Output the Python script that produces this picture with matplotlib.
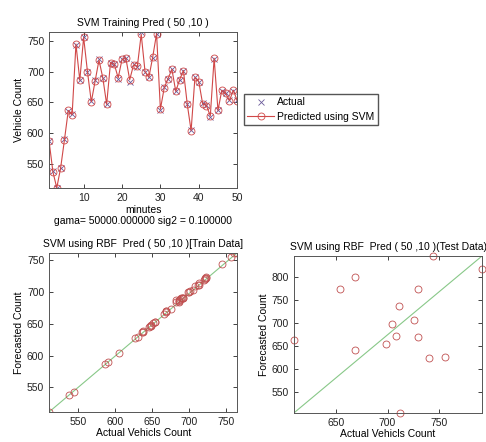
import matplotlib
matplotlib.use("Agg")
import matplotlib.pyplot as plt

plt.rcParams['font.family'] = ['Liberation Sans', 'DejaVu Sans']
plt.rcParams['font.size'] = 7

# minutes 1..50
minutes = list(range(1, 51))

# training set: predicted (red circles) and actual (x)
pred = [587, 537, 511, 543, 589, 637, 630, 745, 686, 756,
        700, 651, 685, 719, 690, 647, 715, 712, 690, 720,
        722, 687, 711, 709, 761, 700, 691, 724, 762, 639,
        674, 689, 704, 668, 687, 702, 647, 604, 691, 684,
        648, 645, 628, 722, 637, 670, 665, 653, 670, 653]
actual = [587, 538, 511, 544, 590, 636, 631, 744, 687, 757,
          700, 652, 686, 720, 690, 647, 714, 713, 689, 721,
          723, 683, 712, 708, 765, 699, 692, 723, 761, 638,
          675, 688, 705, 669, 686, 701, 648, 605, 692, 683,
          649, 646, 627, 721, 638, 669, 666, 654, 669, 654]

# test set
test_actual = [609, 654, 668, 668, 698, 704, 708, 711, 712, 726,
               730, 730, 740, 744, 756, 792]
test_pred = [663, 774, 801, 642, 654, 697, 671, 736, 504, 706,
             774, 669, 624, 846, 626, 818]

title_top = "SVM Training Pred ( 50 ,10 )"
xlabel_top = "minutes\ngama= 50000.000000 sig2 = 0.100000"
title_train = "SVM using RBF  Pred ( 50 ,10 )[Train Data]"
title_test = "SVM using RBF  Pred ( 50 ,10 )(Test Data)"

red = '#d04848'
circ = '#c05050'
green = '#88c888'


def style(ax):
    ax.tick_params(direction='in', top=True, right=True, length=3, width=0.6,
                   colors='#222222', labelsize=7.5)
    for s in ax.spines.values():
        s.set_color('#555555')
        s.set_linewidth(0.7)


fig = plt.figure(figsize=(4.86, 4.42), dpi=100)

# top-left: time series
ax1 = fig.add_axes([0.101, 0.575, 0.387, 0.353])
ax1.plot(minutes, actual, 'x', color='#6a5a9a', markersize=4, mew=0.6, label='Actual')
ax1.plot(minutes, pred, '-o', color=red, lw=0.8, markersize=5, mfc='none', mew=0.6,
         label='Predicted using SVM')
ax1.set_xlim(1, 50)
ax1.set_ylim(min(pred + actual), max(pred + actual))
ax1.set_xticks([10, 20, 30, 40, 50])
ax1.set_yticks([550, 600, 650, 700, 750])
ax1.set_title(title_top, fontsize=7.5, pad=4)
ax1.set_xlabel(xlabel_top, fontsize=7.5, labelpad=2, linespacing=1.1)
ax1.set_ylabel("Vehicle Count", fontsize=7.5, labelpad=2)
style(ax1)

h, l = ax1.get_legend_handles_labels()
fig.legend(h, l, loc='upper left', bbox_to_anchor=(0.502, 0.787), fontsize=7.5,
           fancybox=False, edgecolor='#555555', framealpha=1, borderpad=0.3,
           borderaxespad=0, handlelength=2.6, labelspacing=0.45, handletextpad=0.3)

# bottom-left: train scatter
ax2 = fig.add_axes([0.101, 0.068, 0.387, 0.36])
ax2.plot([min(actual), max(actual)], [min(pred), max(pred)], '-', color=green, lw=0.8)
ax2.plot(actual, pred, 'o', color=circ, markersize=5, mfc='none', mew=0.6)
ax2.set_xlim(min(actual), max(actual))
ax2.set_ylim(min(pred), max(pred))
ax2.set_xticks([550, 600, 650, 700, 750])
ax2.set_yticks([550, 600, 650, 700, 750])
ax2.set_title(title_train, fontsize=7.5, pad=4)
ax2.set_xlabel("Actual Vehicls Count", fontsize=7.5, labelpad=1)
ax2.set_ylabel("Forecasted Count", fontsize=7.5, labelpad=2)
style(ax2)

# bottom-right: test scatter
ax3 = fig.add_axes([0.605, 0.066, 0.387, 0.355])
ax3.plot([min(test_actual), max(test_actual)], [min(test_pred), max(test_pred)], '-',
         color=green, lw=0.8)
ax3.plot(test_actual, test_pred, 'o', color=circ, markersize=5, mfc='none', mew=0.6,
         clip_on=False)
ax3.set_xlim(min(test_actual), max(test_actual))
ax3.set_ylim(min(test_pred), max(test_pred))
ax3.set_xticks([650, 700, 750])
ax3.set_yticks([550, 600, 650, 700, 750, 800])
ax3.set_title(title_test, fontsize=7.5, pad=4)
ax3.set_xlabel("Actual Vehicls Count", fontsize=7.5, labelpad=1)
ax3.set_ylabel("Forecasted Count", fontsize=7.5, labelpad=2)
style(ax3)

fig.savefig('out.png', dpi=100)
